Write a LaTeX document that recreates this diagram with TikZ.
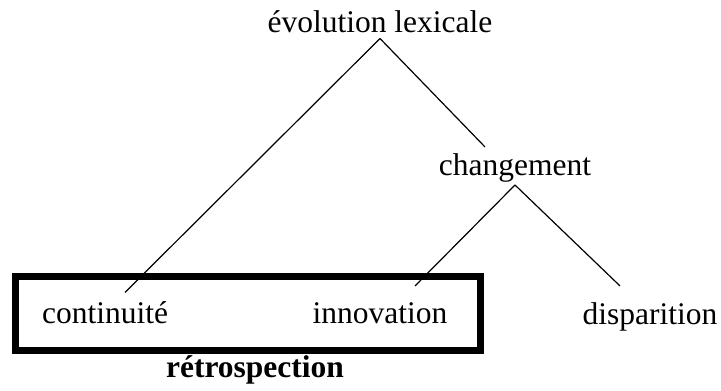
\documentclass[tikz,border=0pt]{standalone}
\usepackage{fontspec}
\setmainfont{Liberation Serif}
\tikzset{
  term/.style    ={font=\fontsize{31.5}{36}\selectfont, inner sep=6pt,
                   anchor=base},
  branch/.style  ={line width=1.2pt},
  retrobox/.style={draw, line width=7pt},
  retrolbl/.style={font=\fontsize{31.5}{36}\selectfont\bfseries,
                   anchor=base},
}
\begin{document}
\begin{tikzpicture}[x=1pt,y=-1pt]
  \useasboundingbox (0,0) rectangle (721,391);
  \node[term] (evol) at (380,32) {évolution lexicale};
  \node[term] (chg) at (515,175) {changement};
  \node[term] (cont) at (105,323) {continuité};
  \node[term] (inno) at (380,323) {innovation};
  \node[term] (disp) at (650,324) {disparition};
  \draw[branch] (evol.south) -- ([xshift=20pt,yshift=2.5pt]cont.north);
  \draw[branch] (evol.south) -- ([xshift=-30pt]chg.north);
  \draw[branch] ([yshift=3pt]chg.south) -- ([xshift=35pt,yshift=10pt]inno.north);
  \draw[branch] ([yshift=3pt]chg.south) -- ([xshift=-30pt,yshift=10pt]disp.north);
  \draw[retrobox] (15.5,276.5) rectangle (480,350.5);
  \node[retrolbl] (retro) at (255,377.5) {rétrospection};
\end{tikzpicture}
\end{document}
